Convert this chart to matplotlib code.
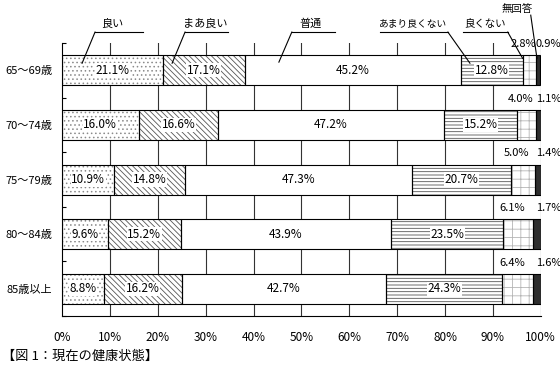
import numpy as np
import matplotlib
matplotlib.use("Agg")
import matplotlib.pyplot as plt

plt.rcParams['font.family'] = ['Liberation Sans Narrow', 'Noto Sans CJK JP', 'DejaVu Sans']
plt.rcParams['hatch.linewidth'] = 0.6

# data
age_groups = ['65～69歳', '70～74歳', '75～79歳', '80～84歳', '85歳以上']
answers = ['良い', 'まあ良い', '普通', 'あまり良くない', '良くない', '無回答']
good = [21.1, 16.0, 10.9, 9.6, 8.8]
fairly_good = [17.1, 16.6, 14.8, 15.2, 16.2]
normal = [45.2, 47.2, 47.3, 43.9, 42.7]
not_so_good = [12.8, 15.2, 20.7, 23.5, 24.3]
bad = [2.8, 4.0, 5.0, 6.1, 6.4]
no_answer = [0.9, 1.1, 1.4, 1.7, 1.6]
x_ticks = [0, 10, 20, 30, 40, 50, 60, 70, 80, 90, 100]

series = [good, fairly_good, normal, not_so_good, bad, no_answer]
# (facecolor, hatch, hatch colour)
styles = [
    ('white', '....', '#8a8a8a'),
    ('white', '\\\\\\\\\\\\', '#555555'),
    ('white', '', 'black'),
    ('white', '-----', '#555555'),
    ('white', '++', '#b5b5b5'),
    ('#2e2e2e', '', 'black'),
]

# leader-line callouts: text pos, underline ends, leader end (x in %, y in rows), size
callouts = [
    (answers[0], (10.6, -0.85), (6.9, 16.9), (4.2, -0.13), 'left', 8),
    (answers[1], (29.9, -0.85), (25.7, 34.7), (23.0, -0.13), 'left', 8),
    (answers[2], (52.0, -0.85), (48.0, 57.0), (45.3, -0.15), 'left', 8),
    (answers[3], (73.3, -0.85), (66.4, 80.6), (85.2, -0.13), 'right', 7),
    (answers[4], (88.3, -0.85), (83.7, 93.1), (96.2, -0.22), 'right', 7.5),
]

fig = plt.figure(figsize=(5.6, 3.74), dpi=100)
ax = fig.add_axes([0.1107, 0.155, 0.855, 0.730])

y = np.arange(len(age_groups))
bar_h = 0.55

# gridlines behind the bars
for xv in x_ticks[1:]:
    ax.axvline(xv, color='#333333', lw=0.8, zorder=0)

left = np.zeros(len(age_groups))
for i, vals in enumerate(series):
    vals = np.array(vals)
    fc, hatch, hc = styles[i]
    ax.barh(y, vals, left=left, height=bar_h, color=fc, edgecolor=hc,
            hatch=hatch, lw=0, zorder=2)
    ax.barh(y, vals, left=left, height=bar_h, fill=False, edgecolor='black',
            lw=0.8, zorder=3)
    centers = left + vals / 2
    for j, v in enumerate(vals):
        if i < 4:
            ax.text(centers[j], y[j], f'{v:.1f}%', ha='center', va='center',
                    fontsize=8.5, zorder=5,
                    bbox=dict(facecolor='white', edgecolor='none', pad=0.4))
        elif i == 4:
            ax.text(centers[j] - 1.2, y[j] - 0.48, f'{v:.1f}%', ha='center',
                    va='center', fontsize=8, zorder=5, clip_on=False)
        else:
            ax.text(101.6, y[j] - 0.48, f'{v:.1f}%', ha='center',
                    va='center', fontsize=8, zorder=5, clip_on=False)
    left = left + vals

# callouts above the first bar
for label, (tx, ty), (u0, u1), (lx, ly), side, fs in callouts:
    ax.text(tx, ty, label, ha='center', va='center', fontsize=fs, clip_on=False)
    start = u0 if side == 'left' else u1
    ax.plot([lx, start], [ly, -0.70], color='black', lw=0.8, clip_on=False, zorder=6)
    ax.plot([u0, u1], [-0.70, -0.70], color='black', lw=0.8, clip_on=False)
ax.text(95.0, -1.12, answers[5], ha='center', va='center', fontsize=7.5, clip_on=False)
ax.plot([97.9, 99.2], [-1.01, -0.22], color='black', lw=0.8, clip_on=False, zorder=6)

ax.set_xlim(0, 100)
ax.set_ylim(4.5, -0.5)
ax.set_xticks(x_ticks)
ax.set_xticklabels([f'{v}%' for v in x_ticks], fontsize=8.5)
ax.tick_params(axis='x', length=0, pad=11)
ax.set_yticks(y)
ax.set_yticklabels(age_groups, fontsize=8)
ax.set_yticks(np.arange(-0.5, 5, 1), minor=True)
ax.tick_params(axis='y', which='major', length=0, pad=7)
ax.tick_params(axis='y', which='minor', direction='in', length=3, width=0.8)
for s in ['top', 'right']:
    ax.spines[s].set_visible(False)
ax.spines['left'].set_linewidth(0.8)
ax.spines['bottom'].set_linewidth(0.8)

fig.text(0.004, 1 - 356 / 374, '【図 1：現在の健康状態】', fontsize=9.5,
         va='center', ha='left')

fig.savefig('out.png', dpi=100, facecolor='white')
